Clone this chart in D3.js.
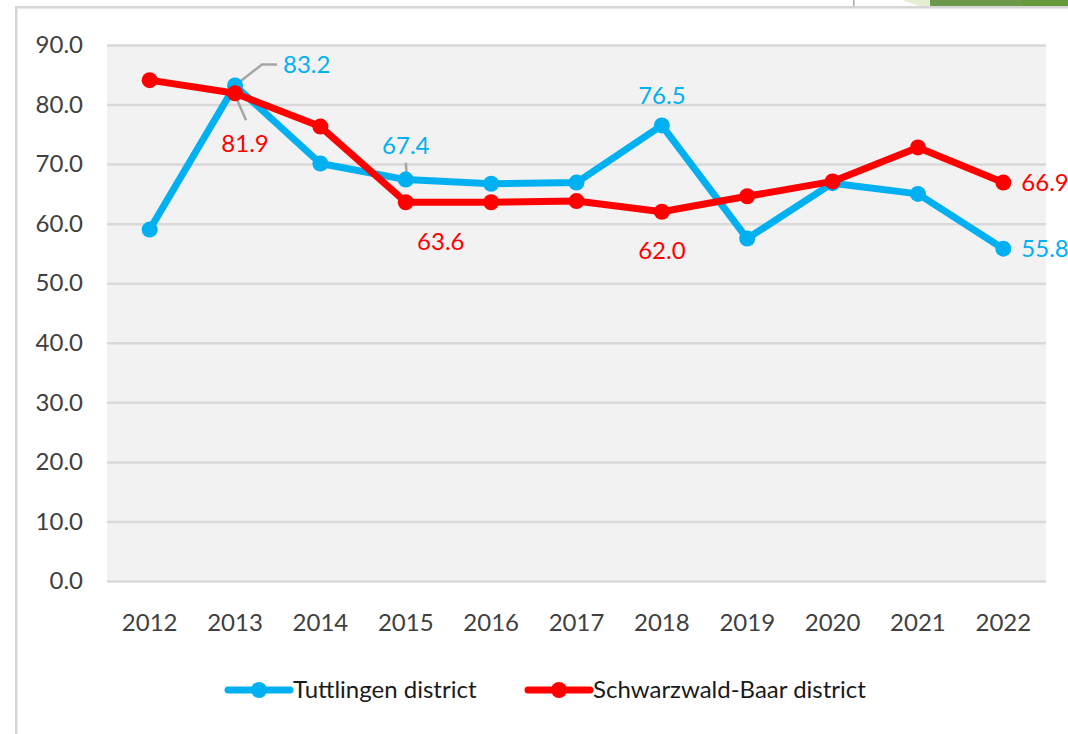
<!DOCTYPE html>
<html><head><meta charset="utf-8">
<script src="https://cdn.jsdelivr.net/npm/d3@7/dist/d3.min.js"></script>
<style>html,body{margin:0;padding:0;background:#fff;overflow:hidden}svg{display:block}</style>
</head><body>
<svg id="c" width="1068" height="734"></svg>
<script>
const years = ["2012","2013","2014","2015","2016","2017","2018","2019","2020","2021","2022"];
const tuttlingen = [59.0, 83.2, 70.1, 67.4, 66.7, 66.9, 76.5, 57.5, 66.8, 65.0, 55.8];
const schwarzwald = [84.1, 81.9, 76.3, 63.6, 63.6, 63.8, 62.0, 64.6, 67.1, 72.8, 66.9];
const yTicks = [0,10,20,30,40,50,60,70,80,90];
const seriesNames = ["Tuttlingen district","Schwarzwald-Baar district"];
const seriesColors = ["#00b0f0","#ff0000"];
// labelled points: [seriesIndex, yearIndex, placement]
const labelled = [[0,1,"ne"],[1,1,"s"],[0,3,"n"],[1,3,"s"],[0,6,"n"],[1,6,"s"],[1,10,"e"],[0,10,"e"]];

const font = "Lato, 'Open Sans', sans-serif";
const svg = d3.select("#c");

// frame and top decorations
svg.append("rect").attr("x",853).attr("y",0).attr("width",1.5).attr("height",7).attr("fill","#aaa");
svg.append("path").attr("d","M902,0 L931,0 L931,7 L922,7 Z").attr("fill","#e4efd2");
svg.append("rect").attr("x",930).attr("y",0).attr("width",92).attr("height",7).attr("fill","#6c9a4a");
svg.append("rect").attr("x",1022).attr("y",0).attr("width",46).attr("height",7).attr("fill","#659839");
svg.append("rect").attr("x",15).attr("y",6).attr("width",1053).attr("height",2.5).attr("fill","#d6d6d6");
svg.append("rect").attr("x",15).attr("y",6).attr("width",2.5).attr("height",728).attr("fill","#d6d6d6");

const x = d3.scaleBand().domain(years).range([107,1046]).padding(0);
const y = d3.scaleLinear().domain([0,90]).range([581,45]);
const cx = d => x(d) + x.bandwidth()/2;

svg.append("rect").attr("x",107).attr("y",y(90)).attr("width",1046-107).attr("height",y(0)-y(90)).attr("fill","#f2f2f2");

// gridlines
const yAxis = d3.axisLeft(y).tickValues(yTicks).tickSize(-(1046-107)).tickFormat(d3.format(".1f")).tickPadding(24);
const gy = svg.append("g").attr("transform","translate(107,0)").call(yAxis);
gy.select(".domain").remove();
gy.selectAll(".tick line").attr("stroke","#d9d9d9").attr("stroke-width",2.5);
gy.selectAll(".tick text").attr("font-family",font).attr("font-size",24).attr("fill","#404040");

const xAxis = d3.axisBottom(x).tickSize(0).tickPadding(33);
const gx = svg.append("g").attr("transform","translate(0,581)").call(xAxis);
gx.select(".domain").remove();
gx.selectAll(".tick text").attr("font-family",font).attr("font-size",24).attr("fill","#404040");

const data = [tuttlingen, schwarzwald];
const line = d3.line().x((d,i)=>cx(years[i])).y(d=>y(d));

// leader lines
const leaders = [
  [[years[1],83.2,0,0],[years[1],83.2,27,-21],[years[1],83.2,42,-21]],
  [[years[1],81.9,0,2],[years[1],81.9,11,27]],
  [[years[3],67.4,0,-17],[years[3],67.4,1,-4]]
];
leaders.forEach(pts=>{
  svg.append("path").attr("d", d3.line().x(p=>cx(p[0])+p[2]).y(p=>y(p[1])+p[3])(pts))
    .attr("fill","none").attr("stroke","#a6a6a6").attr("stroke-width",2.5);
});

data.forEach((vals,s)=>{
  svg.append("path").datum(vals).attr("d",line).attr("fill","none")
    .attr("stroke",seriesColors[s]).attr("stroke-width",7).attr("stroke-linejoin","round");
  svg.selectAll(null).data(vals).enter().append("circle")
    .attr("cx",(d,i)=>cx(years[i])).attr("cy",d=>y(d)).attr("r",8).attr("fill",seriesColors[s]);
});

// data labels
const offs = {ne:[48,-21,"start"], s:[0,39,"middle"], n:[0,-30,"middle"], e:[18,0,"start"]};
labelled.forEach(([s,i,p])=>{
  let [dx,dy,anchor] = offs[p];
  if (s===1 && i===1) { dx = 10; dy = 50; }
  if (s===1 && i===3) dx = 35;
  if (s===0 && i===3) dy = -34;
  const v = data[s][i];
  svg.append("text").attr("x",cx(years[i])+dx).attr("y",y(v)+dy).attr("dy","0.35em")
    .attr("text-anchor",anchor).attr("font-family",font).attr("font-size",24)
    .attr("fill",seriesColors[s]).text(d3.format(".1f")(v));
});

// legend
const legendX = [228, 528];
seriesNames.forEach((n,s)=>{
  const g = svg.append("g").attr("transform",`translate(${legendX[s]},690)`);
  g.append("line").attr("x1",0).attr("x2",62).attr("y1",0).attr("y2",0)
    .attr("stroke",seriesColors[s]).attr("stroke-width",7).attr("stroke-linecap","round");
  g.append("circle").attr("cx",31).attr("cy",0).attr("r",8).attr("fill",seriesColors[s]);
  g.append("text").attr("x",65).attr("y",0).attr("dy","0.35em").attr("font-family",font)
    .attr("font-size",24).attr("fill","#1a1a1a").text(n);
});
</script>
</body></html>
